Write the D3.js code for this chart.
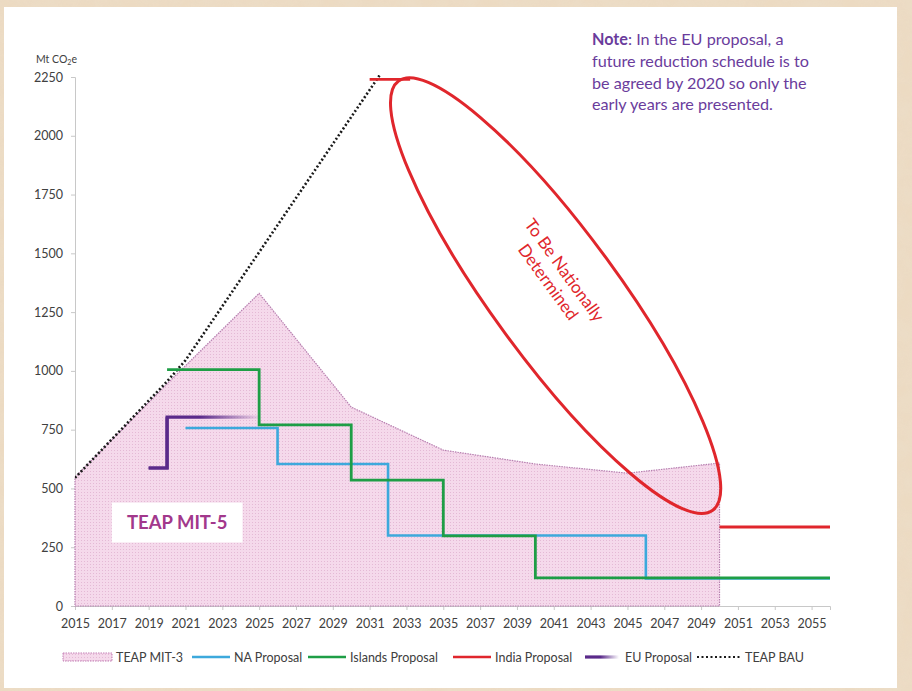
<!DOCTYPE html>
<html>
<head>
<meta charset="utf-8">
<script src="https://cdn.jsdelivr.net/npm/d3@7"></script>
<style>
  body { margin: 0; background: #ead8bf; }
  text { font-family: Lato, "Open Sans", sans-serif; }
</style>
</head>
<body>
<div id="chart"></div>
<script>
// chart size
var width = 912,
    height = 691;

// ---- data ----
var mit3 = [[2015, 548], [2020, 945], [2025, 1330], [2030, 846], [2035, 663],
            [2040, 604], [2045, 565], [2050, 608], [2050, 0]];
var bau = [[2015, 545], [2016, 627], [2017, 709], [2018, 791], [2019, 873], [2020, 955],
           [2021, 1045], [2022, 1160], [2023, 1275], [2024, 1390], [2025, 1505],
           [2026, 1620], [2027, 1735], [2028, 1850], [2029, 1965], [2030, 2080],
           [2031, 2195], [2032, 2310]];
var naProposal = [[2021, 757], [2026, 757], [2026, 604], [2032, 604], [2032, 300],
                  [2046, 300], [2046, 117], [2056, 117]];
var islandsProposal = [[2020, 1005], [2025, 1005], [2025, 770], [2030, 770], [2030, 535],
                       [2035, 535], [2035, 298], [2040, 298], [2040, 120], [2056, 120]];
var indiaTop = [[2031, 2240], [2033.2, 2240]];
var indiaBottom = [[2050, 336], [2056, 336]];
var euProposal = [[2019, 587], [2020, 587], [2020, 803], [2025, 803]];

var yTicks = [0, 250, 500, 750, 1000, 1250, 1500, 1750, 2000, 2250];
var xTicks = d3.range(2015, 2056, 2);

var noteLines = ["future reduction schedule is to", "be agreed by 2020 so only the", "early years  are presented."];

var legendItems = [
  {name: "TEAP MIT-3", type: "area", x: 63},
  {name: "NA Proposal", type: "line", color: "#3da9dc", x: 192},
  {name: "Islands Proposal", type: "line", color: "#1e9e46", x: 308},
  {name: "India Proposal", type: "line", color: "#e0262c", x: 453},
  {name: "EU Proposal", type: "eu", x: 585},
  {name: "TEAP BAU", type: "dots", x: 697}
];

var svg = d3.select("#chart").append("svg")
    .attr("width", width)
    .attr("height", height);

var defs = svg.append("defs");

// parchment texture for the outer border
var filt = defs.append("filter").attr("id", "paper");
filt.append("feTurbulence").attr("type", "fractalNoise").attr("baseFrequency", "0.05")
    .attr("numOctaves", 3).attr("seed", 4);
filt.append("feColorMatrix").attr("type", "matrix")
    .attr("values", "0 0 0 0 0.84  0 0 0 0 0.73  0 0 0 0 0.58  0 0 0 1.3 -0.3");
filt.append("feComposite").attr("in2", "SourceGraphic").attr("operator", "in");

// dotted pink fill for the area
var pat = defs.append("pattern").attr("id", "dots")
    .attr("width", 3).attr("height", 3).attr("patternUnits", "userSpaceOnUse");
pat.append("rect").attr("width", 3).attr("height", 3).attr("fill", "#f5d9eb");
pat.append("rect").attr("width", 1).attr("height", 1).attr("fill", "#e4b9d5");

// fading gradient of the EU line
var grad = defs.append("linearGradient").attr("id", "euFade")
    .attr("gradientUnits", "userSpaceOnUse");
var legGrad = defs.append("linearGradient").attr("id", "euFadeLeg")
    .attr("x1", "0%").attr("x2", "100%");
legGrad.append("stop").attr("offset", "0%").attr("stop-color", "#5a2a8a");
legGrad.append("stop").attr("offset", "45%").attr("stop-color", "#5a2a8a");
legGrad.append("stop").attr("offset", "100%").attr("stop-color", "#5a2a8a").attr("stop-opacity", 0);

svg.append("rect").attr("width", width).attr("height", height).attr("fill", "#ecdac2");
svg.append("rect").attr("width", width).attr("height", height).attr("fill", "#ecdac2")
    .attr("filter", "url(#paper)").attr("opacity", 0.9);
svg.append("rect").attr("x", 4).attr("y", 7).attr("width", 893).attr("height", 681)
    .attr("fill", "#ffffff");

// scales
var x = d3.scaleLinear().domain([2015, 2056]).range([75, 830]);
var y = d3.scaleLinear().domain([0, 2250]).range([606, 77]);

grad.attr("x1", x(2020)).attr("x2", x(2025)).attr("y1", 0).attr("y2", 0);
grad.append("stop").attr("offset", "0%").attr("stop-color", "#5a2a8a");
grad.append("stop").attr("offset", "35%").attr("stop-color", "#5a2a8a");
grad.append("stop").attr("offset", "100%").attr("stop-color", "#5a2a8a").attr("stop-opacity", 0.05);

var line = d3.line().x(function(d) { return x(d[0]); }).y(function(d) { return y(d[1]); });
var area = d3.area().x(function(d) { return x(d[0]); })
    .y0(y(0)).y1(function(d) { return y(d[1]); });

defs.append("clipPath").attr("id", "plotClip").append("rect")
    .attr("x", x(2015)).attr("y", y(2250) - 2).attr("width", x(2056) - x(2015) + 2)
    .attr("height", y(0) - y(2250) + 2);

// axes
var yAxis = svg.append("g").attr("transform", "translate(" + x(2015) + ",0)")
    .call(d3.axisLeft(y).tickValues(yTicks).tickSize(4).tickPadding(8).tickFormat(d3.format("d")));
var xAxis = svg.append("g").attr("transform", "translate(0," + y(0) + ")")
    .call(d3.axisBottom(x).tickValues(xTicks).tickSize(4).tickPadding(9).tickFormat(d3.format("d")));
[yAxis, xAxis].forEach(function(g) {
  g.select(".domain").attr("stroke", "#c8c8c8");
  g.selectAll(".tick line").attr("stroke", "#c8c8c8");
  g.selectAll("text").attr("fill", "#404040").style("font-size", "12.5px")
    .style("font-family", "Lato, sans-serif");
});

svg.append("text").attr("x", 36).attr("y", 63).attr("fill", "#404040")
    .style("font-size", "10.5px")
    .html('Mt CO<tspan dy="2" font-size="7">2</tspan><tspan dy="-2">e</tspan>');

// TEAP MIT-3 area
svg.append("path").datum(mit3)
    .attr("d", area)
    .attr("fill", "url(#dots)")
    .attr("stroke", "#b77fb0")
    .attr("stroke-width", 1.2)
    .attr("stroke-dasharray", "1.5,1");

var plot = svg.append("g").attr("clip-path", "url(#plotClip)");

// BAU
plot.append("path").datum(bau)
    .attr("d", line).attr("fill", "none")
    .attr("stroke", "#1a1a1a").attr("stroke-width", 2.6)
    .attr("stroke-dasharray", "2,2.2");

// proposals
plot.append("path").datum(euProposal)
    .attr("d", line).attr("fill", "none")
    .attr("stroke", "url(#euFade)").attr("stroke-width", 3.2);
svg.append("path").datum(euProposal.slice(0, 3))
    .attr("d", line).attr("fill", "none")
    .attr("stroke", "#5a2a8a").attr("stroke-width", 3.2);

plot.append("path").datum(naProposal)
    .attr("d", line).attr("fill", "none")
    .attr("stroke", "#3da9dc").attr("stroke-width", 2.6);
plot.append("path").datum(islandsProposal)
    .attr("d", line).attr("fill", "none")
    .attr("stroke", "#1e9e46").attr("stroke-width", 2.8);
[indiaTop, indiaBottom].forEach(function(seg) {
  svg.append("path").datum(seg)
    .attr("d", line).attr("fill", "none")
    .attr("stroke", "#e0262c").attr("stroke-width", 2.8);
});

// "To Be Nationally Determined" ellipse
var ecx = x(2041.1), ecy = y(1320);
var ell = svg.append("g").attr("transform", "translate(" + ecx + "," + ecy + ")");
ell.append("ellipse")
    .attr("rx", 266).attr("ry", 63)
    .attr("transform", "rotate(53.8)")
    .attr("fill", "none").attr("stroke", "#e0262c").attr("stroke-width", 3);
var et = ell.append("text")
    .attr("transform", "translate(4,-22) rotate(54)")
    .attr("text-anchor", "middle")
    .attr("fill", "#e0262c")
    .style("font-size", "17px");
et.append("tspan").attr("x", 0).attr("y", 0).text("To Be Nationally");
et.append("tspan").attr("x", 0).attr("y", 20).text("Determined");

// TEAP MIT-5 label
svg.append("rect").attr("x", x(2017)).attr("y", y(440))
    .attr("width", x(2024.1) - x(2017)).attr("height", y(270) - y(440))
    .attr("fill", "#ffffff");
svg.append("text").attr("x", (x(2017) + x(2024.1)) / 2).attr("y", y(355) + 6.5)
    .attr("text-anchor", "middle").attr("fill", "#a2388c")
    .style("font-size", "18.5px").style("font-weight", "bold")
    .text("TEAP MIT-5");

// note
var note = svg.append("text").attr("fill", "#6a3c9c").style("font-size", "16.2px");
note.append("tspan").attr("x", 592).attr("y", 45).style("font-weight", "bold").text("Note");
note.append("tspan").text(": In the EU proposal, a");
noteLines.forEach(function(t, i) {
  note.append("tspan").attr("x", 592).attr("y", 67 + i * 21.5).text(t);
});

// legend
var ly = 657;
var legend = svg.append("g").selectAll("g").data(legendItems).enter().append("g")
    .attr("transform", function(d) { return "translate(" + d.x + "," + ly + ")"; });
legend.each(function(d) {
  var g = d3.select(this);
  var w;
  if (d.type == "area") {
    w = 49;
    g.append("rect").attr("x", 0).attr("y", -4).attr("width", w).attr("height", 8)
      .attr("fill", "url(#dots)").attr("stroke", "#c37fb5").attr("stroke-width", 1)
      .attr("stroke-dasharray", "1.5,1");
  } else if (d.type == "line") {
    w = 38;
    g.append("line").attr("x1", 0).attr("x2", w).attr("stroke", d.color).attr("stroke-width", 2.6);
  } else if (d.type == "eu") {
    w = 34;
    g.append("rect").attr("x", 0).attr("y", -1.6).attr("width", w).attr("height", 3.2)
      .attr("fill", "url(#euFadeLeg)");
  } else {
    w = 44;
    g.append("line").attr("x1", 0).attr("x2", w).attr("stroke", "#1a1a1a")
      .attr("stroke-width", 2.2).attr("stroke-dasharray", "2,2.5");
  }
  g.append("text").attr("x", w + (d.type == "eu" ? 6 : 4)).attr("y", 4.5)
    .attr("fill", "#404040").style("font-size", "12.5px").text(d.name);
});
</script>
</body>
</html>
